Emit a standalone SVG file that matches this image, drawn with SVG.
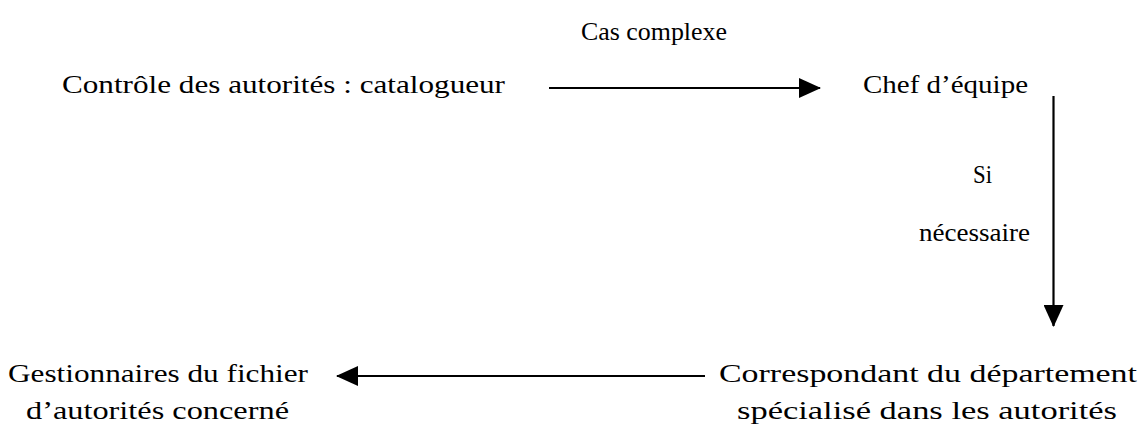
<svg xmlns="http://www.w3.org/2000/svg" width="1144" height="426" viewBox="0 0 1144 426">
<defs>
<style>
text{font-family:"Liberation Serif","DejaVu Serif",serif;font-size:25px;fill:#000}
.c{stroke:#000;stroke-width:2.2;fill:none}
</style>
<marker id="ah" markerUnits="userSpaceOnUse" markerWidth="22" markerHeight="20" refX="21" refY="10" orient="auto" viewBox="0 0 22 20">
<path d="M0,0 L22,10 L0,20 Z" fill="#000"/>
</marker>
</defs>
<rect width="1144" height="426" fill="#fff"/>
<g id="connectors">
<line class="c" x1="549" y1="88" x2="820" y2="88" marker-end="url(#ah)"/>
<line class="c" x1="1053.5" y1="96" x2="1053.5" y2="326" marker-end="url(#ah)"/>
<line class="c" x1="705" y1="376" x2="337" y2="376" marker-end="url(#ah)"/>
<text x="581" y="40" textLength="146" lengthAdjust="spacingAndGlyphs">Cas complexe</text>
<text x="973" y="183" textLength="19" lengthAdjust="spacingAndGlyphs">Si</text>
<text x="919" y="241" textLength="111" lengthAdjust="spacingAndGlyphs">nécessaire</text>
</g>
<g id="n1"><text x="62" y="93" textLength="443" lengthAdjust="spacingAndGlyphs">Contrôle des autorités : catalogueur</text></g>
<g id="n2"><text x="863" y="93" textLength="165" lengthAdjust="spacingAndGlyphs">Chef d’équipe</text></g>
<g id="n3"><text x="719" y="382" textLength="418" lengthAdjust="spacingAndGlyphs">Correspondant du département</text>
<text x="737" y="419" textLength="380" lengthAdjust="spacingAndGlyphs">spécialisé dans les autorités</text></g>
<g id="n4"><text x="8" y="382" textLength="300" lengthAdjust="spacingAndGlyphs">Gestionnaires du fichier</text>
<text x="26" y="419" textLength="263" lengthAdjust="spacingAndGlyphs">d’autorités concerné</text></g>
</svg>
